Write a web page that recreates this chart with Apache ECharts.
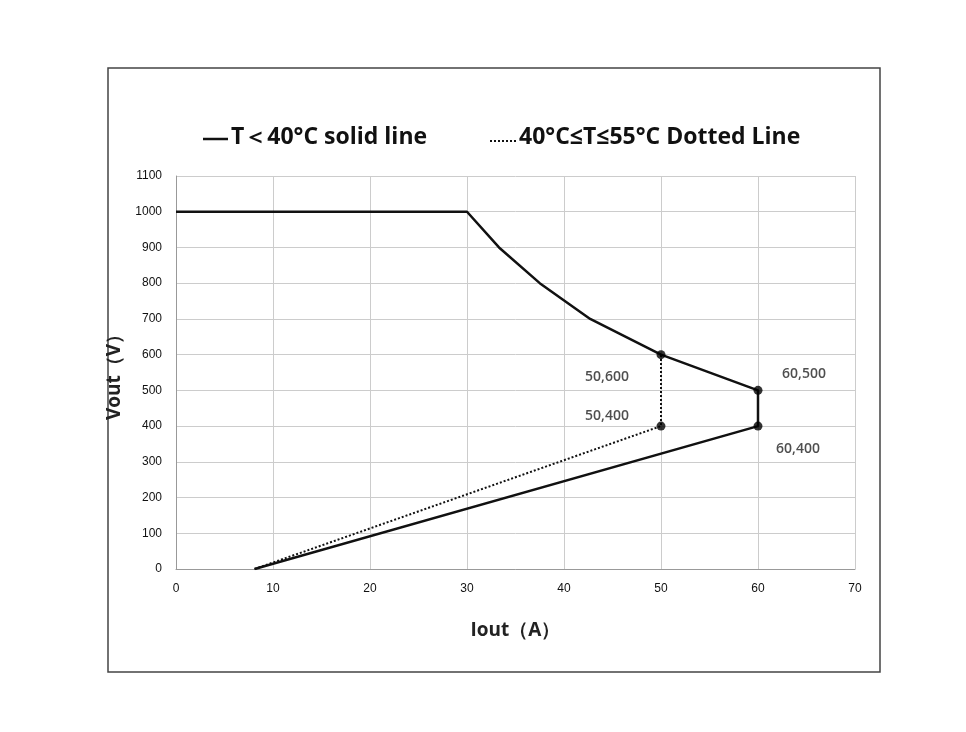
<!DOCTYPE html>
<html><head><meta charset="utf-8">
<script src="https://cdn.jsdelivr.net/npm/echarts@6/dist/echarts.min.js"></script>
<style>html,body{margin:0;background:#fff}#c{width:966px;height:732px}</style>
</head><body><div id="c"></div>
<script>
const solidLine = [[8.1,0],[60,400],[60,500],[50,600],[42.7,700],[37.5,800],[33.3,900],[30,1000],[0,1000]];
const dottedLine = [[8.1,0],[50,400],[50,600]];
const markedPoints = [[50,600,'50,600'],[50,400,'50,400'],[60,500,'60,500'],[60,400,'60,400']];
const xTicks = [0,10,20,30,40,50,60,70];
const yTicks = [0,100,200,300,400,500,600,700,800,900,1000,1100];
const labelPos = {'50,600':[-54,22],'50,400':[-54,-10],'60,500':[46,-16],'60,400':[40,23]};
const chart = echarts.init(document.getElementById('c'));
chart.setOption({
  animation:false,
  graphic:[
    {type:'rect',shape:{x:108,y:68,width:772,height:604},style:{fill:'none',stroke:'#444',lineWidth:1.5}},
    {type:'line',shape:{x1:203,y1:139,x2:228,y2:139},style:{stroke:'#111',lineWidth:2.5}},
    {type:'text',left:231,top:126,style:{text:'T＜40°C solid line',font:'bold 23px "Open Sans", sans-serif',fill:'#111'}},
    {type:'line',shape:{x1:490,y1:141,x2:516,y2:141},style:{stroke:'#111',lineWidth:2,lineDash:[2,2]}},
    {type:'text',left:519,top:126,style:{text:'40°C≤T≤55°C Dotted Line',font:'bold 23px "Open Sans", sans-serif',fill:'#111'}}
  ],
  grid:{left:176,right:111,top:176,bottom:163},
  xAxis:{type:'value',min:0,max:70,interval:10,name:'Iout（A）',nameLocation:'middle',nameGap:52,
    nameTextStyle:{fontSize:19,fontWeight:'bold',color:'#222',fontFamily:'"Open Sans",sans-serif'},
    axisLine:{lineStyle:{color:'#999'}},axisTick:{show:false},
    axisLabel:{color:'#111',fontSize:12,margin:14,formatter:v=>xTicks.includes(v)?String(v):''},
    splitLine:{lineStyle:{color:'#ccc'}}},
  yAxis:{type:'value',min:0,max:1100,interval:100,name:'Vout（V）',nameLocation:'middle',nameGap:40,
    nameTextStyle:{fontSize:19,fontWeight:'bold',color:'#222',fontFamily:'"Open Sans",sans-serif'},
    axisLine:{show:true,lineStyle:{color:'#999'}},axisTick:{show:false},
    axisLabel:{color:'#111',fontSize:12,margin:14,formatter:v=>yTicks.includes(v)?String(v):''},
    splitLine:{lineStyle:{color:'#ccc'}}},
  series:[
    {type:'line',data:dottedLine,symbol:'none',lineStyle:{color:'#111',width:2,type:[2,2]}},
    {type:'line',data:solidLine,symbol:'none',lineStyle:{color:'#111',width:2.5}},
    {type:'scatter',data:markedPoints,symbolSize:9,itemStyle:{color:'#000'},z:5,
      label:{show:true,formatter:p=>p.data[2],color:'#222',fontSize:14,fontWeight:600,fontFamily:'"Open Sans",sans-serif',
        position:'inside',offset:[0,0]},
      labelLayout:p=>{const o=labelPos[markedPoints[p.dataIndex][2]];return {dx:o[0],dy:o[1]};}}
  ]
});
</script></body></html>
